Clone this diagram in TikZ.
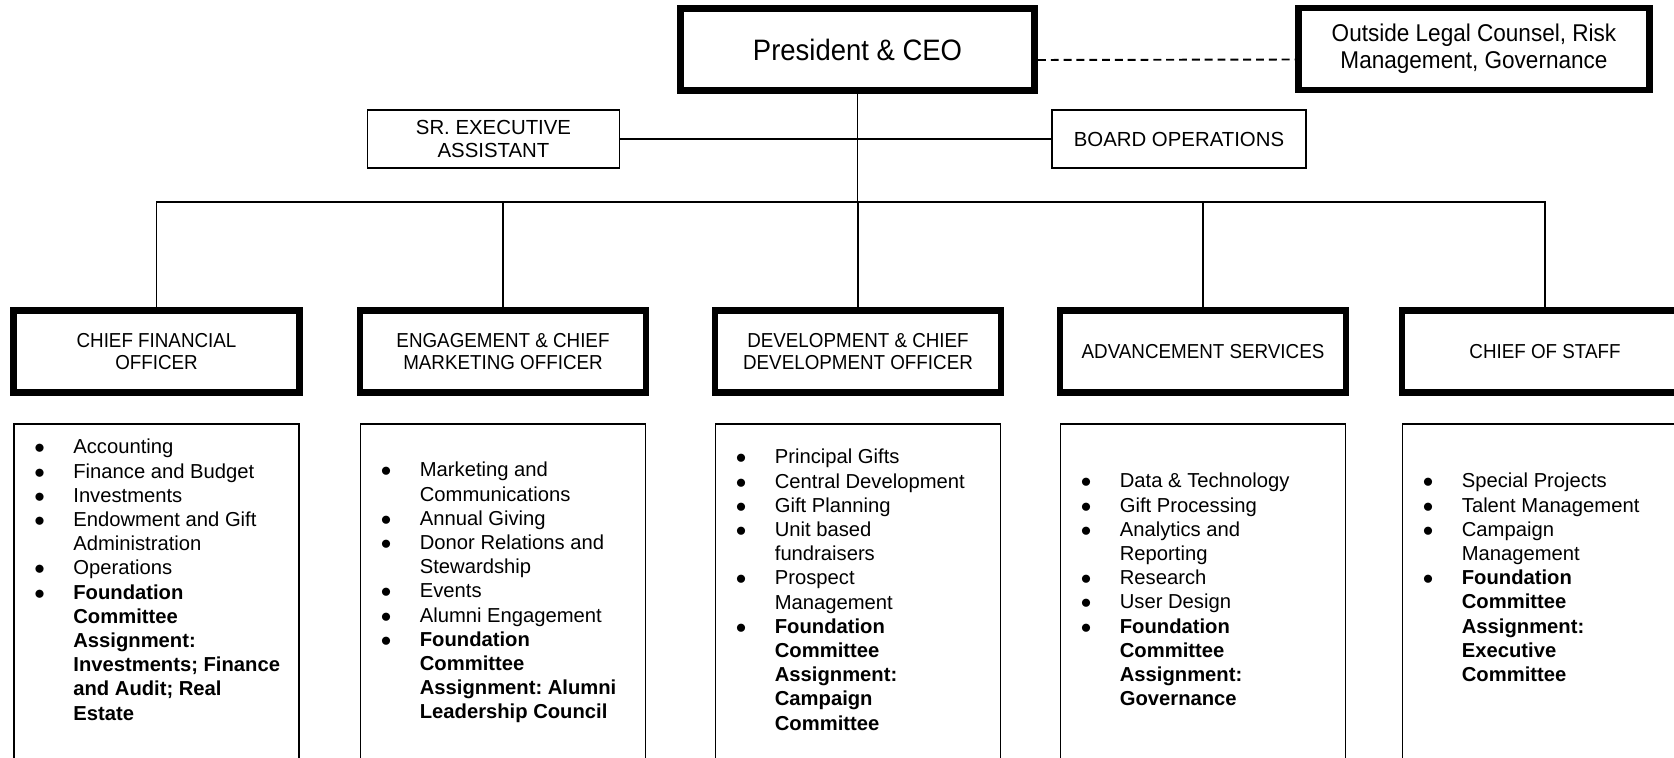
\documentclass[tikz,border=0pt]{standalone}
\usepackage{fontspec}
\setmainfont{Liberation Sans}
\newfontfamily\headfont[FakeStretch=0.93]{Liberation Sans}
\usetikzlibrary{positioning}
\usetikzlibrary{calc}
\frenchspacing

\newcommand{\blt}{$\bullet$}

\begin{document}
\begin{tikzpicture}[thin,
	boss/.style={draw, line width=3.9pt, minimum width=7.08cm, minimum height=1.64cm, align=center, inner sep=0pt, font=\headfont\fontsize{16.8}{19}\selectfont},
	aide/.style={draw, line width=1.1pt, minimum width=5.04cm, minimum height=1.16cm, align=center, inner sep=0pt, font=\fontsize{11.6}{13.6}\selectfont},
	head/.style={draw, line width=3.9pt, minimum width=5.72cm, minimum height=1.64cm, align=center, inner sep=0pt, font=\headfont\fontsize{11.5}{12.75}\selectfont},
	duty/.style={draw, line width=1.1pt, minimum width=5.7cm, minimum height=7.8cm},
	items/.style={anchor=base west, inner sep=0pt, font=\fontsize{11.5}{13.77}\selectfont},
	link/.style={line width=1.1pt},
	liaison/.style={line width=1.1pt, dash pattern=on 4.5pt off 2.8pt}]
\useasboundingbox (0,0) rectangle (33.48,-15.16);
\clip (0,0) rectangle (33.48,-15.16);

% top level
\node (ceo) at (17.15,-0.99) [boss] {President \& CEO};
\node (legal) at (29.48,-0.98) [boss, minimum width=7.03cm, font=\headfont\fontsize{13.8}{15.4}\selectfont] {Outside Legal Counsel, Risk\\Management, Governance};
\node (sea) at (9.87,-2.78) [aide] {SR. EXECUTIVE\\ASSISTANT};
\node (board) at (23.58,-2.78) [aide, minimum width=5.08cm] {BOARD OPERATIONS};

% direct reports
\node (cfo) at (3.13,-7.03) [head] {CHIEF FINANCIAL\\OFFICER};
\node (eng) at (10.06,-7.03) [head] {ENGAGEMENT \& CHIEF\\MARKETING OFFICER};
\node (dev) at (17.16,-7.03) [head] {DEVELOPMENT \& CHIEF\\DEVELOPMENT OFFICER};
\node (adv) at (24.06,-7.03) [head] {ADVANCEMENT SERVICES};
\node (cos) at (30.9,-7.03) [head] {CHIEF OF STAFF};

\coordinate (bus) at (17.15,-4.04);
\draw[link] (ceo.south) -- (bus);
\draw[link] (sea.east) -- (board.west);
\draw[link] (cfo.north) |- (bus) -| (cos.north);
\foreach \n in {eng,dev,adv} {
\draw[link] (\n.north) -- (\n.north |- bus);
}
\draw[liaison] ([yshift=-0.21cm]ceo.east) -- ([yshift=-0.21cm]legal.west);

% duty boxes
\foreach \n in {cfo,eng,dev,adv,cos} {
\node (\n-box) [duty, below=0.54cm of \n] {};
}

\node (cfo-list) at ($(cfo-box.north west)+(0.42,-0.62)$) [items] {\begin{tabular}[t]{@{}p{0.78cm}@{}l@{}}
\blt & Accounting\\
\blt & Finance and Budget\\
\blt & Investments\\
\blt & Endowment and Gift\\
 & Administration\\
\blt & Operations\\
\blt & \textbf{Foundation}\\
 & \textbf{Committee}\\
 & \textbf{Assignment:}\\
 & \textbf{Investments; Finance}\\
 & \textbf{and Audit; Real}\\
 & \textbf{Estate}
\end{tabular}};

\node (eng-list) at ($(eng-box.north west)+(0.42,-1.08)$) [items] {\begin{tabular}[t]{@{}p{0.78cm}@{}l@{}}
\blt & Marketing and\\
 & Communications\\
\blt & Annual Giving\\
\blt & Donor Relations and\\
 & Stewardship\\
\blt & Events\\
\blt & Alumni Engagement\\
\blt & \textbf{Foundation}\\
 & \textbf{Committee}\\
 & \textbf{Assignment: Alumni}\\
 & \textbf{Leadership Council}
\end{tabular}};

\node (dev-list) at ($(dev-box.north west)+(0.42,-0.82)$) [items] {\begin{tabular}[t]{@{}p{0.78cm}@{}l@{}}
\blt & Principal Gifts\\
\blt & Central Development\\
\blt & Gift Planning\\
\blt & Unit based\\
 & fundraisers\\
\blt & Prospect\\
 & Management\\
\blt & \textbf{Foundation}\\
 & \textbf{Committee}\\
 & \textbf{Assignment:}\\
 & \textbf{Campaign}\\
 & \textbf{Committee}
\end{tabular}};

\node (adv-list) at ($(adv-box.north west)+(0.42,-1.3)$) [items] {\begin{tabular}[t]{@{}p{0.78cm}@{}l@{}}
\blt & Data \& Technology\\
\blt & Gift Processing\\
\blt & Analytics and\\
 & Reporting\\
\blt & Research\\
\blt & User Design\\
\blt & \textbf{Foundation}\\
 & \textbf{Committee}\\
 & \textbf{Assignment:}\\
 & \textbf{Governance}
\end{tabular}};

\node (cos-list) at ($(cos-box.north west)+(0.42,-1.3)$) [items] {\begin{tabular}[t]{@{}p{0.78cm}@{}l@{}}
\blt & Special Projects\\
\blt & Talent Management\\
\blt & Campaign\\
 & Management\\
\blt & \textbf{Foundation}\\
 & \textbf{Committee}\\
 & \textbf{Assignment:}\\
 & \textbf{Executive}\\
 & \textbf{Committee}
\end{tabular}};
\end{tikzpicture}
\end{document}
